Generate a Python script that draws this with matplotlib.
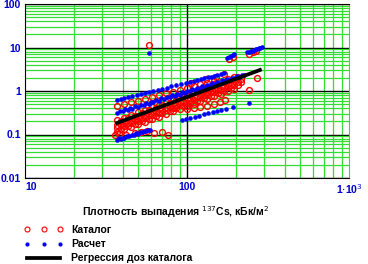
import matplotlib
matplotlib.use("Agg")
import matplotlib.pyplot as plt

plt.rcParams['font.family'] = ['Liberation Sans', 'DejaVu Sans']

# Catalog doses (red open circles), rows of the dense cloud
cat_x_a = [37, 41, 45, 50, 55, 61, 67, 74, 82, 90, 100, 110, 121, 133, 147, 162, 178, 196]
cat_y_a = [0.212, 0.244, 0.277, 0.321, 0.366, 0.422, 0.48, 0.55, 0.635, 0.72, 0.834, 0.952,
           1.085, 1.24, 1.42, 1.62, 1.85, 2.12]
cat_x_b = [37, 41, 45, 50, 55, 61, 67, 74, 82, 90, 100, 110, 121, 133, 147, 162, 178, 196, 216]
cat_y_b = [0.166, 0.191, 0.217, 0.251, 0.286, 0.33, 0.376, 0.43, 0.497, 0.564, 0.65, 0.745,
           0.85, 0.97, 1.11, 1.27, 1.45, 1.66, 1.89]
cat_y_c = [0.138, 0.159, 0.181, 0.209, 0.239, 0.275, 0.314, 0.359, 0.414, 0.47, 0.544, 0.62,
           0.71, 0.81, 0.93, 1.06, 1.21, 1.38, 1.58]
cat_y_d = [0.114, 0.131, 0.149, 0.173, 0.197, 0.228, 0.259, 0.296, 0.342, 0.389, 0.45, 0.51,
           0.585, 0.667, 0.766, 0.874, 1.0, 1.14]
cat_x_e = [39, 43, 47.5, 52.5, 58, 64, 70.5, 78, 86, 95, 105, 115.5, 127, 140, 154.5, 170, 187, 206]
cat_y_e = [0.208, 0.238, 0.273, 0.313, 0.359, 0.412, 0.47, 0.541, 0.618, 0.71, 0.815, 0.929,
           1.06, 1.21, 1.39, 1.58, 1.81, 2.07]
cat_y_f = [0.162, 0.186, 0.213, 0.244, 0.28, 0.321, 0.367, 0.422, 0.483, 0.554, 0.636, 0.726,
           0.827, 0.947, 1.085, 1.237, 1.41, 1.61]
cat_y_g = [0.135, 0.154, 0.177, 0.203, 0.233, 0.267, 0.305, 0.35, 0.4, 0.46, 0.528, 0.602,
           0.686, 0.785, 0.9, 1.026, 1.17, 1.34]
# scattered catalog points
cat_x_h = [37, 41, 45, 50, 55, 61, 67, 74, 82, 90, 100, 110, 121, 133, 147,
           36, 38, 42, 48, 52, 57, 63, 70, 76,
           100, 110, 121, 133, 147, 160, 172,
           106, 131, 151, 169, 181, 192, 240, 255, 268,
           58, 240, 270]
cat_y_h = [0.46, 0.5, 0.55, 0.6, 0.67, 0.73, 0.8, 0.88, 0.97, 1.07, 1.2, 1.3, 1.42, 1.55, 1.7,
           0.1, 0.105, 0.1, 0.11, 0.112, 0.118, 0.11, 0.113, 0.1,
           0.38, 0.4, 0.42, 0.46, 0.5, 0.56, 0.62,
           1.5, 1.85, 2.1, 2.5, 5.3, 6.1, 7.2, 7.8, 8.4,
           11.5, 1.07, 2.0]

# Calculated doses (blue dots)
calc_x_up = [37, 39, 41, 43, 46, 49, 52, 55, 58, 62, 66, 70, 75, 80, 86, 92, 98, 105, 110, 116,
             122, 128, 134, 140, 147, 154, 162, 170,
             176, 181, 186, 192, 196, 236, 242, 248, 254, 260, 266, 272, 278, 284, 290, 58]
calc_y_up = [0.62, 0.65, 0.68, 0.71, 0.76, 0.81, 0.85, 0.90, 0.94, 1.00, 1.06, 1.12, 1.20, 1.27,
             1.36, 1.46, 1.54, 1.64, 1.71, 1.80, 1.88, 1.98, 2.06, 2.15, 2.25, 2.35, 2.46, 2.57,
             5.6, 6.0, 6.3, 6.9, 7.1, 7.8, 8.0, 8.3, 8.5, 8.8, 9.1, 9.4, 9.7, 10.0, 10.3, 7.4]
calc_x_mid = [37, 40, 43, 46, 50, 54, 58, 62, 67, 72, 78, 84, 90, 97, 104, 112, 120, 129, 138,
              148, 158, 170, 182, 195, 210, 225]
calc_y_mid = [0.31, 0.338, 0.366, 0.395, 0.433, 0.47, 0.51, 0.55, 0.60, 0.65, 0.71, 0.77, 0.83,
              0.90, 0.98, 1.06, 1.14, 1.24, 1.34, 1.44, 1.55, 1.68, 1.82, 1.96, 2.13, 2.30]
calc_x_mid2 = [38.5, 41.5, 44.5, 48, 52, 56, 60, 64.5, 69.5, 75, 81, 87, 93.5, 100.5, 108, 116,
               124.5, 133.5, 143, 153, 164, 176, 188.5, 202.5, 217.5]
calc_y_mid2 = [0.35, 0.38, 0.411, 0.447, 0.488, 0.53, 0.573, 0.62, 0.674, 0.733, 0.799, 0.865,
               0.937, 1.015, 1.1, 1.19, 1.29, 1.39, 1.50, 1.62, 1.75, 1.89, 2.04, 2.21, 2.39]
calc_x_low = [37, 38, 39, 40, 41, 42.5, 44, 45.5, 47, 48.5, 50, 51.5, 53, 54.5, 56, 57.5, 59,
              93, 99, 105, 112, 119, 127, 135, 144, 153, 163, 175, 192, 240]
calc_y_low = [0.075, 0.081, 0.0795, 0.085, 0.0837, 0.092, 0.0903, 0.099, 0.0984, 0.106, 0.105,
              0.113, 0.112, 0.121, 0.119, 0.129, 0.127,
              0.215, 0.228, 0.242, 0.257, 0.273, 0.29, 0.307, 0.326, 0.346, 0.367, 0.393, 0.43, 0.53]

# Regression of catalog doses
reg_x = [37, 282]
reg_y = [0.184, 3.04]

cat_x = cat_x_a + cat_x_b + cat_x_b + cat_x_a + cat_x_e + cat_x_e + cat_x_e + cat_x_h
cat_y = cat_y_a + cat_y_b + cat_y_c + cat_y_d + cat_y_e + cat_y_f + cat_y_g + cat_y_h
calc_x = calc_x_up + calc_x_mid + calc_x_mid2 + calc_x_low
calc_y = calc_y_up + calc_y_mid + calc_y_mid2 + calc_y_low

fig = plt.figure(figsize=(3.68, 2.64), dpi=100)
ax = fig.add_axes([25 / 368, 86 / 264, 324 / 368, 174 / 264])

green = '#33dd33'
ax.set_xscale('log')
ax.set_yscale('log')
ax.set_xlim(10, 1000)
ax.set_ylim(0.01, 100)
ax.grid(which='minor', color=green, lw=0.9)
ax.grid(which='major', axis='y', color='black', lw=1)
ax.axvline(100, color='black', lw=1)
for side in ['top', 'bottom', 'left']:
    ax.spines[side].set_color('black')
ax.spines['right'].set_color(green)
ax.set_axisbelow(True)

l1, = ax.plot(cat_x, cat_y, linestyle='none', marker='o', ms=4.2, mfc='none',
              mec='#ff0000', mew=1.0, label='Каталог')
l2, = ax.plot(calc_x, calc_y, linestyle='none', marker='o', ms=3.3, mfc='#0000ff',
              mec='#0000ff', mew=0, label='Расчет')
l3, = ax.plot(reg_x, reg_y, color='black', lw=2.7, label='Регрессия доз каталога')

ax.set_xticks([10, 100, 1000])
ax.set_xticklabels(['10', '100', r'1$\cdot$10$^3$'])
ax.set_yticks([0.01, 0.1, 1, 10, 100])
ax.set_yticklabels(['0.01', '0.1', '1', '10', '100'])
ax.xaxis.set_minor_formatter(plt.NullFormatter())
ax.yaxis.set_minor_formatter(plt.NullFormatter())
ax.tick_params(which='both', length=0, labelsize=7.5, labelcolor='#0000cc')
ax.tick_params(axis='x', pad=3)
ax.tick_params(axis='y', pad=3)
for t in ax.get_xticklabels() + ax.get_yticklabels():
    t.set_fontweight('bold')
ax.get_xticklabels()[0].set_horizontalalignment('left')

fig.text(176 / 368, 1 - 212 / 264, 'Плотность выпадения $^{137}$Cs, кБк/м$^2$',
         ha='center', va='center', fontsize=7.5, fontweight='bold')

leg = fig.legend(handles=[l1, l2, l3], loc='upper left', bbox_to_anchor=(24 / 368, 1 - 225 / 264),
                 frameon=False, numpoints=3, handlelength=3.8, handletextpad=0.7,
                 labelspacing=0.4, borderpad=0, borderaxespad=0,
                 prop={'size': 7.5, 'weight': 'bold'})
leg.legend_handles[0].set_markersize(3.6)
leg.legend_handles[0].set_markeredgewidth(0.8)
leg.legend_handles[1].set_markersize(3.0)

fig.savefig('out.png', dpi=100)
